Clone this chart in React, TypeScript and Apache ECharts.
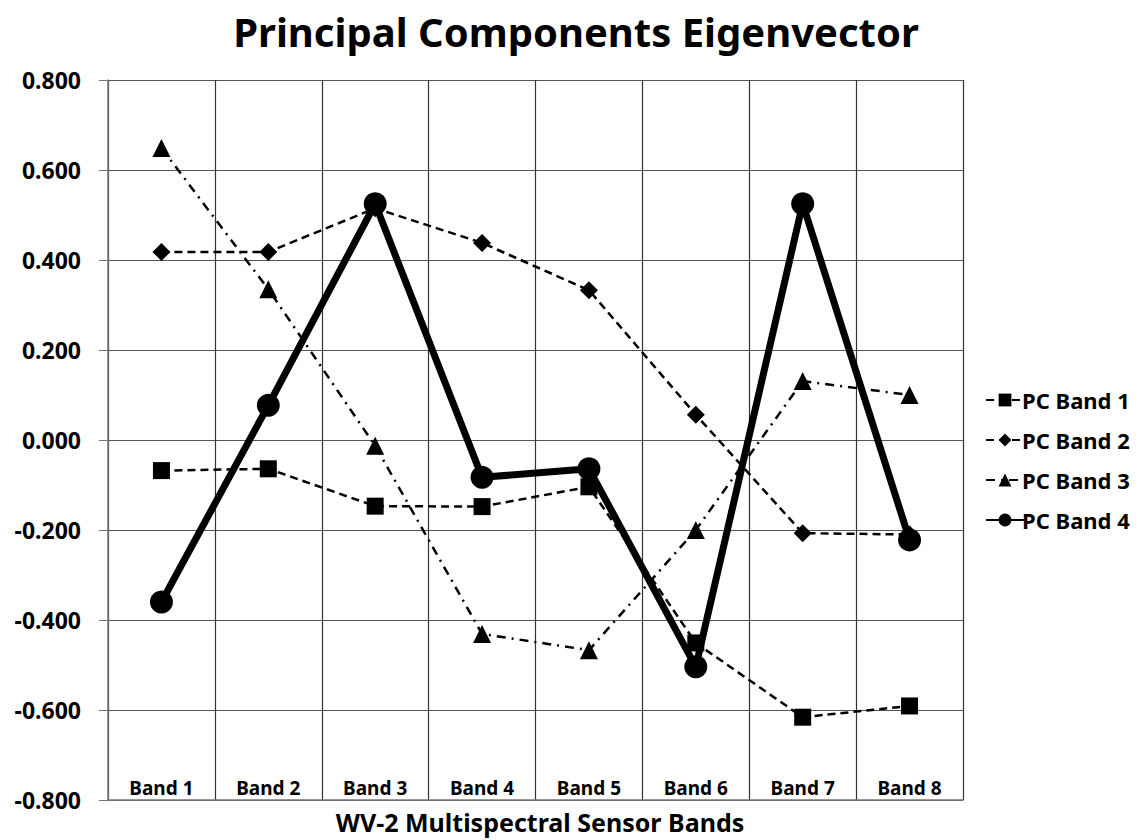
import React, { useEffect, useRef } from "react";
import * as echarts from "echarts";

const categories = ["Band 1", "Band 2", "Band 3", "Band 4", "Band 5", "Band 6", "Band 7", "Band 8"];
const pcBand1 = [-0.068, -0.064, -0.147, -0.148, -0.104, -0.451, -0.616, -0.591];
const pcBand2 = [0.418, 0.418, 0.515, 0.438, 0.333, 0.056, -0.207, -0.21];
const pcBand3 = [0.649, 0.335, -0.013, -0.431, -0.467, -0.2, 0.131, 0.1];
const pcBand4 = [-0.36, 0.077, 0.525, -0.083, -0.064, -0.504, 0.525, -0.222];
const yTicks = { min: -0.8, max: 0.8, interval: 0.2 };
const xAxisTitle = "WV-2 Multispectral Sensor Bands";

const FONT = "'Noto Sans', sans-serif";

export default function App() {
  const ref = useRef<HTMLDivElement>(null);
  useEffect(() => {
    if (!ref.current) return;
    const chart = echarts.init(ref.current, undefined, { renderer: "svg" });
    const mk = (name: string, data: number[], symbol: string, size: number, width: number, type: any) => ({
      name,
      type: "line",
      data,
      symbol,
      symbolSize: size,
      showAllSymbol: true,
      itemStyle: { color: "#000" },
      lineStyle: { color: "#000", width, type },
      emphasis: { disabled: true },
    });
    chart.setOption({
      animation: false,
      backgroundColor: "#fff",
      title: [
        {
          text: "Principal Components Eigenvector",
          left: 571,
          textAlign: "center",
          top: 6,
          textStyle: { fontFamily: FONT, fontSize: 40, fontWeight: "bold", color: "#000" },
        },
        {
          text: xAxisTitle,
          left: 535,
          textAlign: "center",
          top: 804,
          textStyle: { fontFamily: FONT, fontSize: 25, fontWeight: "bold", color: "#000" },
        },
      ],
      grid: { left: 108, right: 180, top: 80, bottom: 40, outerBoundsMode: "none", containLabel: false },
      legend: {
        orient: "vertical",
        left: 980,
        top: 384,
        itemGap: 18,
        itemWidth: 38,
        itemHeight: 16,
        textStyle: { fontFamily: FONT, fontSize: 22, fontWeight: "bold", color: "#000", padding: [0, 0, 0, -7] },
        data: ["PC Band 1", "PC Band 2", "PC Band 3", "PC Band 4"],
      },
      xAxis: {
        type: "category",
        data: categories,
        boundaryGap: true,
        axisLine: { onZero: false, lineStyle: { color: "#777", width: 1.5 } },
        axisTick: { show: false },
        axisLabel: {
          inside: true,
          margin: 3,
          interval: 0,
          fontFamily: FONT,
          fontSize: 19,
          fontWeight: "bold",
          color: "#000",
        },
        splitLine: { show: true, interval: 0, lineStyle: { color: "#333", width: 1.2 } },
      },
      yAxis: {
        type: "value",
        min: yTicks.min,
        max: yTicks.max,
        interval: yTicks.interval,
        axisLine: { show: true, lineStyle: { color: "#777", width: 1.5 } },
        axisTick: { show: true, length: 9, lineStyle: { color: "#777" } },
        axisLabel: {
          margin: 27,
          formatter: (v: number) => v.toFixed(3),
          fontFamily: FONT,
          fontSize: 23,
          fontWeight: "bold",
          color: "#000",
        },
        splitLine: { show: true, lineStyle: { color: "#555", width: 1.2 } },
      },
      series: [
        mk("PC Band 1", pcBand1, "rect", 17, 2.5, [8, 5]),
        mk("PC Band 2", pcBand2, "diamond", 18, 2.5, [8, 5]),
        mk("PC Band 3", pcBand3, "triangle", 18, 2.5, [9, 6, 2, 6]),
        mk("PC Band 4", pcBand4, "circle", 23, 7, "solid"),
      ],
    });
    return () => chart.dispose();
  }, []);
  return <div ref={ref} style={{ width: 1143, height: 840, position: "absolute", left: 0, top: 0 }} />;
}
